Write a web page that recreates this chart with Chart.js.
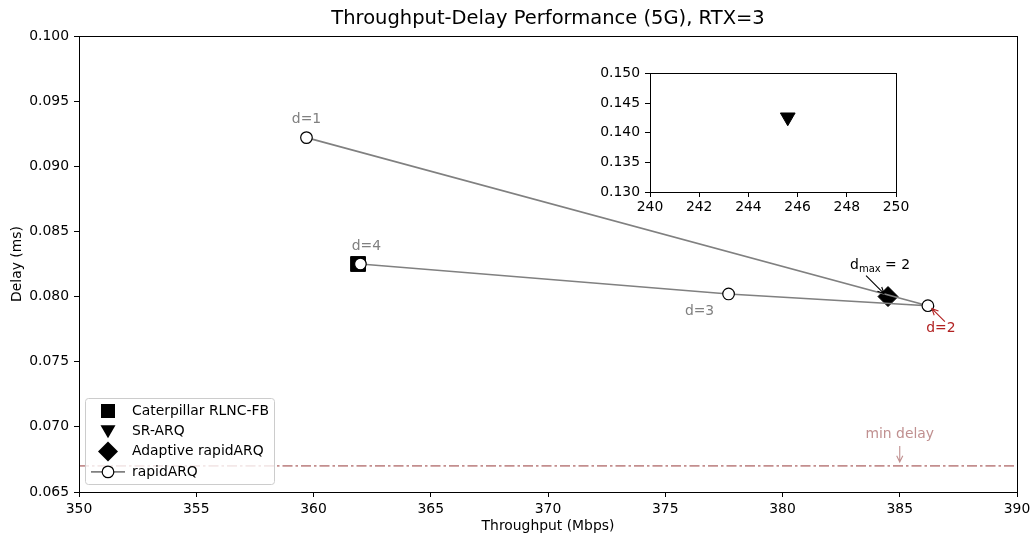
<!DOCTYPE html>
<html lang="en">
<head>
<meta charset="UTF-8">
<title>Throughput-Delay Performance</title>
<script src="https://cdn.jsdelivr.net/npm/chart.js"></script>
<style>
  html, body { margin: 0; padding: 0; background: #fff; }
  #wrap { position: relative; width: 1032px; height: 538px; }
  #mainChart { position: absolute; left: 0; top: 0; }
  #insetChart { position: absolute; left: 590px; top: 60px; }
</style>
</head>
<body>
<div id="wrap">
  <canvas id="mainChart" width="1032" height="538"></canvas>
  <canvas id="insetChart" width="320" height="160"></canvas>
</div>
<script>
// tick values
const xTicks = [350, 355, 360, 365, 370, 375, 380, 385, 390];
const yTicks = [0.065, 0.070, 0.075, 0.080, 0.085, 0.090, 0.095, 0.100];
const insetXTicks = [240, 242, 244, 246, 248, 250];
const insetYTicks = [0.130, 0.135, 0.140, 0.145, 0.150];

// series (throughput in Mbps, delay in ms)
const caterpillarX = [361.9];
const caterpillarY = [0.0825];
const srArqX = [245.6];
const srArqY = [0.1426];
const adaptiveX = [384.5];
const adaptiveY = [0.0800];
const rapidLabels = ['d=1', 'd=2', 'd=3', 'd=4'];
const rapidX = [359.7, 386.2, 377.7, 362.0];
const rapidY = [0.0922, 0.0793, 0.0802, 0.0825];
const minDelay = 0.067;

const FONT = 'DejaVu Sans';
const FS = 13.9;
const toPts = (xs, ys) => xs.map((x, i) => ({ x: x, y: ys[i] }));

function arrowHead(ctx, x0, y0, x1, y1, len) {
  const a = Math.atan2(y1 - y0, x1 - x0);
  ctx.beginPath();
  ctx.moveTo(x0, y0);
  ctx.lineTo(x1, y1);
  ctx.moveTo(x1 - len * Math.cos(a - 0.45), y1 - len * Math.sin(a - 0.45));
  ctx.lineTo(x1, y1);
  ctx.lineTo(x1 - len * Math.cos(a + 0.45), y1 - len * Math.sin(a + 0.45));
  ctx.stroke();
}

function drawMarker(ctx, kind, x, y) {
  ctx.save();
  ctx.fillStyle = '#000';
  ctx.strokeStyle = '#000';
  ctx.beginPath();
  if (kind === 'square') {
    ctx.rect(x - 7, y - 7, 14, 14);
    ctx.fill();
  } else if (kind === 'tri') {
    ctx.moveTo(x - 7.5, y - 6);
    ctx.lineTo(x + 7.5, y - 6);
    ctx.lineTo(x, y + 7);
    ctx.closePath();
    ctx.fill();
  } else if (kind === 'diamond') {
    ctx.moveTo(x, y - 10);
    ctx.lineTo(x + 10, y);
    ctx.lineTo(x, y + 10);
    ctx.lineTo(x - 10, y);
    ctx.closePath();
    ctx.fill();
  } else if (kind === 'line') {
    ctx.strokeStyle = '#808080';
    ctx.lineWidth = 1.6;
    ctx.moveTo(x - 17, y);
    ctx.lineTo(x + 17, y);
    ctx.stroke();
    ctx.beginPath();
    ctx.arc(x, y, 5.8, 0, Math.PI * 2);
    ctx.fillStyle = '#fff';
    ctx.fill();
    ctx.strokeStyle = '#000';
    ctx.lineWidth = 1.2;
    ctx.stroke();
  }
  ctx.restore();
}

// text notes, placed by pixel offsets from a data point
const notes = [
  { text: 'd=1', color: '#808080', x: rapidX[0], y: rapidY[0], dx: 0, dy: -18 },
  { text: 'd=4', color: '#808080', x: rapidX[3], y: rapidY[3], dx: 6, dy: -18 },
  { text: 'd=3', color: '#808080', x: rapidX[2], y: rapidY[2], dx: -29, dy: 17 },
  { text: 'd=2', color: '#b22222', x: rapidX[1], y: rapidY[1], dx: 13, dy: 23, arrow: [17, 16, 4, 3] },
  { text: 'dmax', color: '#000', x: adaptiveX[0], y: adaptiveY[0], dx: -8, dy: -31, arrow: [-22, -21, -4, -3] },
  { text: 'min delay', color: '#c09090', x: 385, y: minDelay, dx: 0, dy: -32, arrow: [0, -20, 0, -4] }
];

const mainDecor = {
  id: 'mainDecor',
  afterDraw(chart) {
    const ctx = chart.ctx;
    const a = chart.chartArea;
    const xs = chart.scales.x, ys = chart.scales.y;
    ctx.save();
    // frame
    ctx.strokeStyle = '#000';
    ctx.lineWidth = 1;
    ctx.strokeRect(Math.round(a.left) + 0.5, Math.round(a.top) + 0.5, Math.round(a.right - a.left), Math.round(a.bottom - a.top));
    // title
    ctx.fillStyle = '#000';
    ctx.font = '19.5px "' + FONT + '"';
    ctx.textAlign = 'center';
    ctx.textBaseline = 'middle';
    ctx.fillText('Throughput-Delay Performance (5G), RTX=3', (a.left + a.right) / 2, 19);

    // notes
    notes.forEach(n => {
      const px = xs.getPixelForValue(n.x), py = ys.getPixelForValue(n.y);
      ctx.fillStyle = n.color;
      ctx.strokeStyle = n.color;
      ctx.lineWidth = 1.1;
      ctx.textAlign = 'center';
      ctx.textBaseline = 'middle';
      if (n.text === 'dmax') {
        const big = FS + 'px "' + FONT + '"', small = '10px "' + FONT + '"';
        ctx.font = big; const w1 = ctx.measureText('d').width;
        ctx.font = small; const w2 = ctx.measureText('max').width;
        ctx.font = big; const w3 = ctx.measureText(' = 2').width;
        let sx = px + n.dx - (w1 + w2 + w3) / 2;
        const sy = py + n.dy;
        ctx.textAlign = 'left';
        ctx.fillText('d', sx, sy); sx += w1;
        ctx.font = small; ctx.fillText('max', sx, sy + 4); sx += w2;
        ctx.font = big; ctx.fillText(' = 2', sx, sy);
      } else {
        ctx.font = FS + 'px "' + FONT + '"';
        ctx.fillText(n.text, px + n.dx, py + n.dy);
      }
      if (n.arrow) {
        arrowHead(ctx, px + n.arrow[0], py + n.arrow[1], px + n.arrow[2], py + n.arrow[3], 7);
      }
    });

    // legend
    const lx = 85.5, ly = 398.5, lw = 189, lh = 86;
    ctx.beginPath();
    ctx.roundRect(lx, ly, lw, lh, 3);
    ctx.fillStyle = 'rgba(255,255,255,0.8)';
    ctx.fill();
    ctx.strokeStyle = '#cccccc';
    ctx.lineWidth = 1;
    ctx.stroke();
    const rows = [
      ['square', 'Caterpillar RLNC-FB'],
      ['tri', 'SR-ARQ'],
      ['diamond', 'Adaptive rapidARQ'],
      ['line', 'rapidARQ']
    ];
    ctx.font = FS + 'px "' + FONT + '"';
    ctx.textAlign = 'left';
    ctx.textBaseline = 'middle';
    rows.forEach((r, i) => {
      const cy = 411 + i * 20.3;
      drawMarker(ctx, r[0], 108, cy);
      ctx.fillStyle = '#000';
      ctx.fillText(r[1], 132, cy);
    });
    ctx.restore();
  }
};

const tickFont = { family: FONT, size: FS };
const tickGrid = { display: true, drawOnChartArea: false, drawTicks: true, tickLength: 5, color: '#000', lineWidth: 1 };

new Chart(document.getElementById('mainChart'), {
  type: 'scatter',
  data: {
    datasets: [
      {
        label: 'rapidARQ', data: toPts(rapidX, rapidY), showLine: true,
        borderColor: '#808080', borderWidth: 1.6, pointStyle: 'circle', pointRadius: 5.8,
        pointBackgroundColor: '#fff', pointBorderColor: '#000', pointBorderWidth: 1.2, order: 0
      },
      {
        label: 'Adaptive rapidARQ', data: toPts(adaptiveX, adaptiveY), pointStyle: 'rectRot',
        pointRadius: 10, backgroundColor: '#000', borderColor: '#000', order: 1
      },
      {
        label: 'Caterpillar RLNC-FB', data: toPts(caterpillarX, caterpillarY), pointStyle: 'rect',
        pointRadius: 10.5, backgroundColor: '#000', borderColor: '#000', order: 2
      },
      {
        label: 'min delay', data: [{ x: xTicks[0], y: minDelay }, { x: xTicks[xTicks.length - 1], y: minDelay }],
        showLine: true, pointRadius: 0, borderColor: 'rgba(188,130,130,0.9)', borderWidth: 1.8,
        borderDash: [10, 3, 2.5, 3], order: 3
      }
    ]
  },
  options: {
    responsive: false,
    animation: false,
    layout: { padding: { left: 0, right: 15, top: 36, bottom: 0 } },
    plugins: { legend: { display: false }, tooltip: { enabled: false } },
    scales: {
      x: {
        type: 'linear', min: xTicks[0], max: xTicks[xTicks.length - 1],
        afterFit: s => { s.height = 46; s.paddingLeft = 0; s.paddingRight = 0; },
        afterBuildTicks: s => { s.ticks = xTicks.map(v => ({ value: v })); },
        ticks: { color: '#000', font: tickFont, padding: 4, maxRotation: 0, callback: v => String(v) },
        grid: tickGrid,
        border: { display: false },
        title: { display: true, text: 'Throughput (Mbps)', color: '#000', font: tickFont, padding: { top: 0, bottom: 3 } }
      },
      y: {
        type: 'linear', min: yTicks[0], max: yTicks[yTicks.length - 1],
        afterFit: s => { s.width = 79; },
        afterBuildTicks: s => { s.ticks = yTicks.map(v => ({ value: v })); },
        ticks: { color: '#000', font: tickFont, padding: 5, callback: v => v.toFixed(3) },
        grid: tickGrid,
        border: { display: false },
        title: { display: true, text: 'Delay (ms)', color: '#000', font: tickFont, padding: { top: 9, bottom: 0 } }
      }
    }
  },
  plugins: [mainDecor]
});

const insetFrame = {
  id: 'insetFrame',
  afterDraw(chart) {
    const ctx = chart.ctx, a = chart.chartArea;
    ctx.save();
    ctx.strokeStyle = '#000';
    ctx.lineWidth = 1;
    ctx.strokeRect(Math.round(a.left) + 0.5, Math.round(a.top) + 0.5, Math.round(a.right - a.left), Math.round(a.bottom - a.top));
    ctx.restore();
  }
};

new Chart(document.getElementById('insetChart'), {
  type: 'scatter',
  data: {
    datasets: [{
      label: 'SR-ARQ', data: toPts(srArqX, srArqY), pointStyle: 'triangle', rotation: 180,
      pointRadius: 8.5, backgroundColor: '#000', borderColor: '#000'
    }]
  },
  options: {
    responsive: false,
    animation: false,
    layout: { padding: { left: 0, right: 14, top: 11, bottom: 0 } },
    plugins: { legend: { display: false }, tooltip: { enabled: false } },
    scales: {
      x: {
        type: 'linear', min: insetXTicks[0], max: insetXTicks[insetXTicks.length - 1],
        afterFit: s => { s.height = 28; s.paddingLeft = 0; s.paddingRight = 0; },
        afterBuildTicks: s => { s.ticks = insetXTicks.map(v => ({ value: v })); },
        ticks: { color: '#000', font: tickFont, padding: 2, maxRotation: 0, callback: v => String(v) },
        grid: tickGrid,
        border: { display: false }
      },
      y: {
        type: 'linear', min: insetYTicks[0], max: insetYTicks[insetYTicks.length - 1],
        afterFit: s => { s.width = 60; },
        afterBuildTicks: s => { s.ticks = insetYTicks.map(v => ({ value: v })); },
        ticks: { color: '#000', font: tickFont, padding: 5, callback: v => v.toFixed(3) },
        grid: tickGrid,
        border: { display: false }
      }
    }
  },
  plugins: [insetFrame]
});
</script>
</body>
</html>
